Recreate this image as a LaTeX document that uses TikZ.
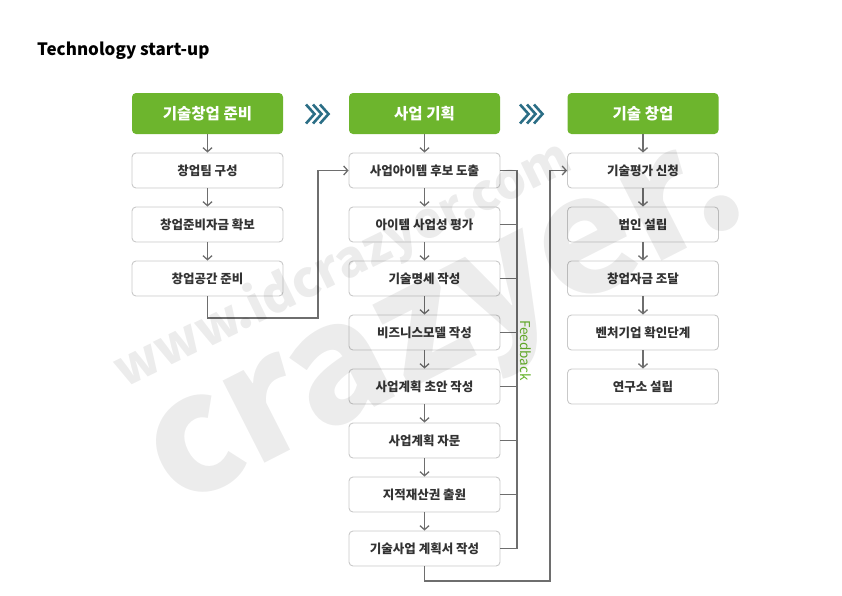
\documentclass[tikz,border=0pt]{standalone}
\usepackage{fontspec}
\setmainfont{Noto Sans CJK KR}
\usetikzlibrary{arrows.meta}
\definecolor{hgreen}{HTML}{6DB52D}
\definecolor{fgreen}{HTML}{66B32A}
\definecolor{boxgray}{HTML}{C9C9C9}
\definecolor{cgray}{HTML}{6E6E6E}
\definecolor{txt}{HTML}{333333}
\definecolor{chev}{HTML}{2B6E86}
\definecolor{wm}{HTML}{000000}
\begin{document}
\begin{tikzpicture}[x=1pt,y=-1pt,
  hdr/.style={fill=hgreen, rounded corners=4pt, minimum width=151pt, minimum height=41pt,
    inner sep=0pt, text=white, font=\bfseries\fontsize{15.5}{17}\selectfont},
  bx/.style={draw=boxgray, fill=white, rounded corners=4pt, minimum width=151pt,
    minimum height=35pt, inner sep=0pt, line width=0.9pt, text=txt,
    font=\bfseries\fontsize{12.5}{14}\selectfont},
  conn/.style={draw=cgray, line width=1.5pt, -{Straight Barb[length=4pt,width=9pt,line width=1.3pt]}},
  fbl/.style={draw=cgray, line width=1.5pt},
  chevline/.style={draw=chev, line width=2.6pt, line join=miter}]
\useasboundingbox (0,0) rectangle (842,595);
% headers
\node[hdr] (H1) at (207.5,113.5) {기술창업 준비};
\node[hdr] (H2) at (424.5,113.5) {사업 기획};
\node[hdr] (H3) at (643,113.5) {기술 창업};
% title
\node[anchor=west, inner sep=0pt, font=\bfseries\fontsize{17}{19}\selectfont] (T) at (37,51) {Technology start-up};
% left column
\node[bx] (L1) at (207.5,170.5) {창업팀 구성};
\node[bx] (L2) at (207.5,224.5) {창업준비자금 확보};
\node[bx] (L3) at (207.5,278.5) {창업공간 준비};
% middle column
\node[bx] (M1) at (424.5,170.5) {사업아이템 후보 도출};
\node[bx] (M2) at (424.5,224.5) {아이템 사업성 평가};
\node[bx] (M3) at (424.5,278.5) {기술명세 작성};
\node[bx] (M4) at (424.5,332.5) {비즈니스모델 작성};
\node[bx] (M5) at (424.5,386.5) {사업계획 초안 작성};
\node[bx] (M6) at (424.5,440.5) {사업계획 자문};
\node[bx] (M7) at (424.5,494.5) {지적재산권 출원};
\node[bx] (M8) at (424.5,548.5) {기술사업 계획서 작성};
% right column
\node[bx] (R1) at (643,170.5) {기술평가 신청};
\node[bx] (R2) at (643,224.5) {법인 설립};
\node[bx] (R3) at (643,278.5) {창업자금 조달};
\node[bx] (R4) at (643,332.5) {벤처기업 확인단계};
\node[bx] (R5) at (643,386.5) {연구소 설립};
% vertical arrows
\draw[conn] (H1) -- (L1); \draw[conn] (L1) -- (L2); \draw[conn] (L2) -- (L3);
\draw[conn] (H2) -- (M1);
\foreach \a/\b in {M1/M2,M2/M3,M3/M4,M4/M5,M5/M6,M6/M7,M7/M8} \draw[conn] (\a) -- (\b);
\draw[conn] (H3) -- (R1);
\foreach \a/\b in {R1/R2,R2/R3,R3/R4,R4/R5} \draw[conn] (\a) -- (\b);
% column links
\coordinate (j1) at (318,318);
\draw[conn] (L3.south) |- (j1) |- (M1.west);
\coordinate (j2) at (550,581);
\draw[conn] (M8.south) |- (j2) |- (R1.west);
% feedback
\coordinate (fbx) at (517,0);
\draw[fbl] (M1.east) -- (M1.east -| fbx) -- (M8.east -| fbx) -- (M8.east);
\foreach \m in {M2,M3,M4,M5,M6,M7} \draw[fbl] (\m.east) -- (\m.east -| fbx);
\node[rotate=-90, text=fgreen, inner sep=0pt, font=\fontsize{13.5}{15}\selectfont] (FB) at (525.5,350.5) {Feedback};
% chevrons
\foreach \x in {306,313,320} \draw[chevline] (\x,104.5) -- (\x+8.5,114) -- (\x,123.5);
\foreach \x in {520,527,534} \draw[chevline] (\x,104.5) -- (\x+8.5,114) -- (\x,123.5);
% watermark
\begin{scope}[opacity=0.075]
\node[rotate=26, text=wm, font=\bfseries\fontsize{50}{50}\selectfont] (W1) at (343,265) {www.idcrazyer.com};
\node[rotate=27, text=wm, font=\bfseries\fontsize{162}{162}\selectfont] (W2) at (452,335) {crazyer.};
\end{scope}
\end{tikzpicture}
\end{document}
